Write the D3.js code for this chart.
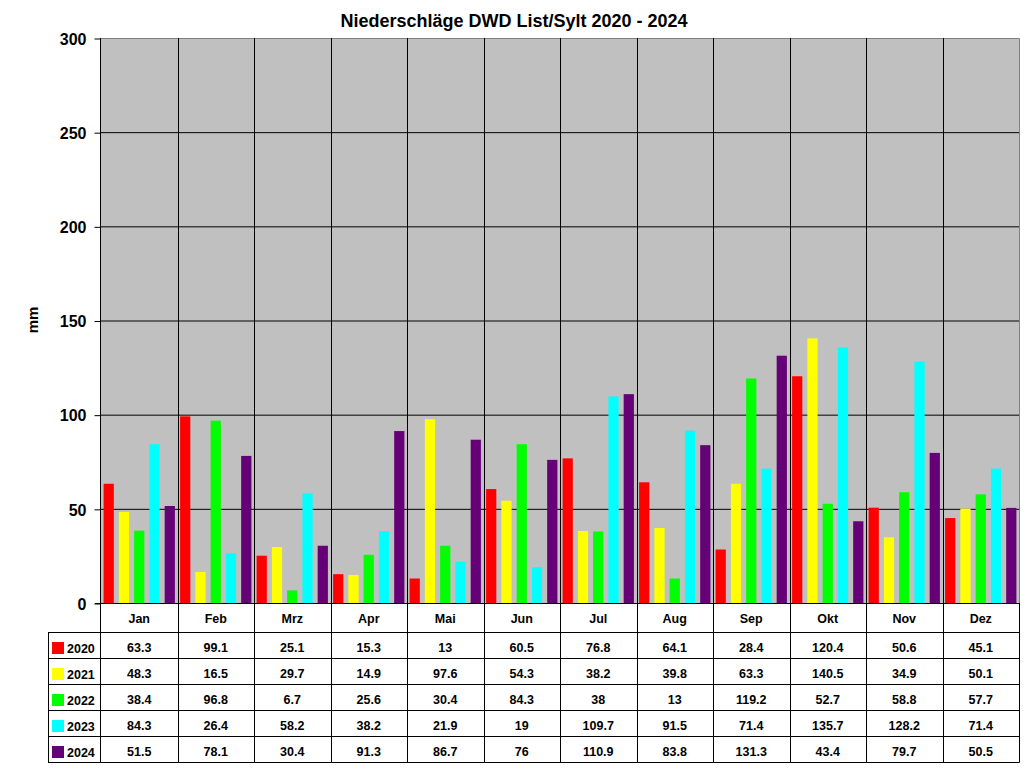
<!DOCTYPE html>
<meta charset="utf-8">
<script src="https://d3js.org/d3.v7.min.js"></script>
<style>
  body { margin: 0; background: #fff; }
  text { font-family: "Liberation Sans", Arial, sans-serif; font-weight: bold; fill: #000; }
</style>
<div id="chart"></div>
<script>

// data
var months = ["Jan", "Feb", "Mrz", "Apr", "Mai", "Jun", "Jul", "Aug", "Sep", "Okt", "Nov", "Dez"];
var years = ["2020", "2021", "2022", "2023", "2024"];
var colors = ["#ff0000", "#ffff00", "#00ff00", "#00ffff", "#660077"];
var yTicks = [0, 50, 100, 150, 200, 250, 300];

var rain2020 = [63.3, 99.1, 25.1, 15.3, 13, 60.5, 76.8, 64.1, 28.4, 120.4, 50.6, 45.1];
var rain2021 = [48.3, 16.5, 29.7, 14.9, 97.6, 54.3, 38.2, 39.8, 63.3, 140.5, 34.9, 50.1];
var rain2022 = [38.4, 96.8, 6.7, 25.6, 30.4, 84.3, 38, 13, 119.2, 52.7, 58.8, 57.7];
var rain2023 = [84.3, 26.4, 58.2, 38.2, 21.9, 19, 109.7, 91.5, 71.4, 135.7, 128.2, 71.4];
var rain2024 = [51.5, 78.1, 30.4, 91.3, 86.7, 76, 110.9, 83.8, 131.3, 43.4, 79.7, 50.5];
var series = [rain2020, rain2021, rain2022, rain2023, rain2024];

// layout
var plot = {left: 101, top: 38, right: 1019, bottom: 603};
var legendLeft = 48, headerH = 29, rowH = 26;

var svg = d3.select("#chart")
  .append("svg")
    .attr("width", 1024)
    .attr("height", 768);

svg.append("rect").attr("width", 1024).attr("height", 768).attr("fill", "#fff");

var x = d3.scaleBand()
    .domain(months)
    .range([plot.left, plot.right]);

var xInner = d3.scaleBand()
    .domain(years)
    .range([0, x.bandwidth()])
    .paddingInner(0.33)
    .paddingOuter(0.17);

var y = d3.scaleLinear()
    .domain([0, 300])
    .range([plot.bottom, plot.top]);

// plot background
svg.append("rect")
    .attr("x", plot.left)
    .attr("y", plot.top)
    .attr("width", plot.right - plot.left)
    .attr("height", plot.bottom - plot.top)
    .attr("fill", "#c0c0c0");

// horizontal gridlines
svg.append("g")
  .selectAll("line")
  .data(yTicks.filter(function(d) { return d > 0 && d < 300; }))
  .enter().append("line")
    .attr("x1", plot.left).attr("x2", plot.right)
    .attr("y1", function(d) { return y(d) + 0.5; })
    .attr("y2", function(d) { return y(d) + 0.5; })
    .attr("stroke", "#000");

// bars
var groups = svg.append("g")
  .selectAll("g")
  .data(months)
  .enter().append("g")
    .attr("transform", function(d) { return "translate(" + x(d) + ",0)"; });

groups.selectAll("rect")
  .data(function(m, i) { return years.map(function(yr, j) { return {year: yr, j: j, v: series[j][i]}; }); })
  .enter().append("rect")
    .attr("x", function(d) { return xInner(d.year); })
    .attr("y", function(d) { return y(d.v); })
    .attr("width", xInner.bandwidth())
    .attr("height", function(d) { return y(0) - y(d.v); })
    .attr("fill", function(d) { return colors[d.j]; });

// plot border top/right (grey)
svg.append("path")
    .attr("d", "M" + plot.left + "," + (plot.top + 0.5) + "H" + (plot.right + 0.5) + "V" + plot.bottom)
    .attr("fill", "none")
    .attr("stroke", "#808080");

var tableBottom = plot.bottom + headerH + rowH * years.length;

// vertical category lines through plot and table
svg.append("g")
  .selectAll("line")
  .data(months.slice(1))
  .enter().append("line")
    .attr("x1", function(d) { return Math.round(x(d)) + 0.5; })
    .attr("x2", function(d) { return Math.round(x(d)) + 0.5; })
    .attr("y1", plot.top)
    .attr("y2", tableBottom)
    .attr("stroke", "#000");

// right edge of table
svg.append("line")
    .attr("x1", plot.right + 0.5).attr("x2", plot.right + 0.5)
    .attr("y1", plot.bottom).attr("y2", tableBottom + 0.5)
    .attr("stroke", "#000");

// y axis
var yAxis = svg.append("g")
    .attr("transform", "translate(" + (plot.left - 0.5) + ",0.5)")
    .call(d3.axisLeft(y).tickValues(yTicks).tickSize(6).tickPadding(8).tickSizeOuter(0));
yAxis.select(".domain").remove();
yAxis.selectAll("line").attr("stroke", "#000");
yAxis.selectAll("text")
    .style("font-size", "16px")
    .style("font-family", "'Liberation Sans', Arial, sans-serif")
    .style("font-weight", "bold")
    .attr("dy", "0.36em");

// left axis line, extends down through the table
svg.append("line")
    .attr("x1", plot.left - 0.5).attr("x2", plot.left - 0.5)
    .attr("y1", plot.top).attr("y2", tableBottom + 0.5)
    .attr("stroke", "#000");

// x axis line
svg.append("line")
    .attr("x1", plot.left - 6).attr("x2", plot.right)
    .attr("y1", plot.bottom + 0.5).attr("y2", plot.bottom + 0.5)
    .attr("stroke", "#000");

// table horizontal lines
svg.append("g")
  .selectAll("line")
  .data(d3.range(years.length + 1))
  .enter().append("line")
    .attr("x1", legendLeft)
    .attr("x2", plot.right + 0.5)
    .attr("y1", function(i) { return plot.bottom + headerH + rowH * i + 0.5; })
    .attr("y2", function(i) { return plot.bottom + headerH + rowH * i + 0.5; })
    .attr("stroke", "#000");

// legend column left edge
svg.append("line")
    .attr("x1", legendLeft + 0.5).attr("x2", legendLeft + 0.5)
    .attr("y1", plot.bottom + headerH).attr("y2", tableBottom + 0.5)
    .attr("stroke", "#000");

// month header
svg.append("g")
  .selectAll("text")
  .data(months)
  .enter().append("text")
    .attr("x", function(d) { return x(d) + x.bandwidth() / 2; })
    .attr("y", plot.bottom + headerH / 2 + 5)
    .attr("text-anchor", "middle")
    .style("font-size", "12.5px")
    .text(function(d) { return d; });

// table rows
var rows = svg.append("g")
  .selectAll("g")
  .data(years)
  .enter().append("g")
    .attr("transform", function(d, j) { return "translate(0," + (plot.bottom + headerH + rowH * j) + ")"; });

rows.append("rect")
    .attr("x", 52).attr("y", 10)
    .attr("width", 12).attr("height", 12)
    .attr("fill", function(d, j) { return colors[j]; });

rows.append("text")
    .attr("x", 67).attr("y", 21)
    .style("font-size", "12.5px")
    .text(function(d) { return d; });

rows.selectAll("text.val")
  .data(function(d, j) { return series[j]; })
  .enter().append("text")
    .attr("class", "val")
    .attr("x", function(d, i) { return x(months[i]) + x.bandwidth() / 2; })
    .attr("y", 20)
    .attr("text-anchor", "middle")
    .style("font-size", "12.5px")
    .text(function(d) { return d; });

// title
svg.append("text")
    .attr("x", 514)
    .attr("y", 27)
    .attr("text-anchor", "middle")
    .style("font-size", "18px")
    .text("Niederschläge DWD List/Sylt 2020 - 2024");

// y label
svg.append("text")
    .attr("transform", "translate(38,320) rotate(-90)")
    .attr("text-anchor", "middle")
    .style("font-size", "15px")
    .text("mm");

</script>
